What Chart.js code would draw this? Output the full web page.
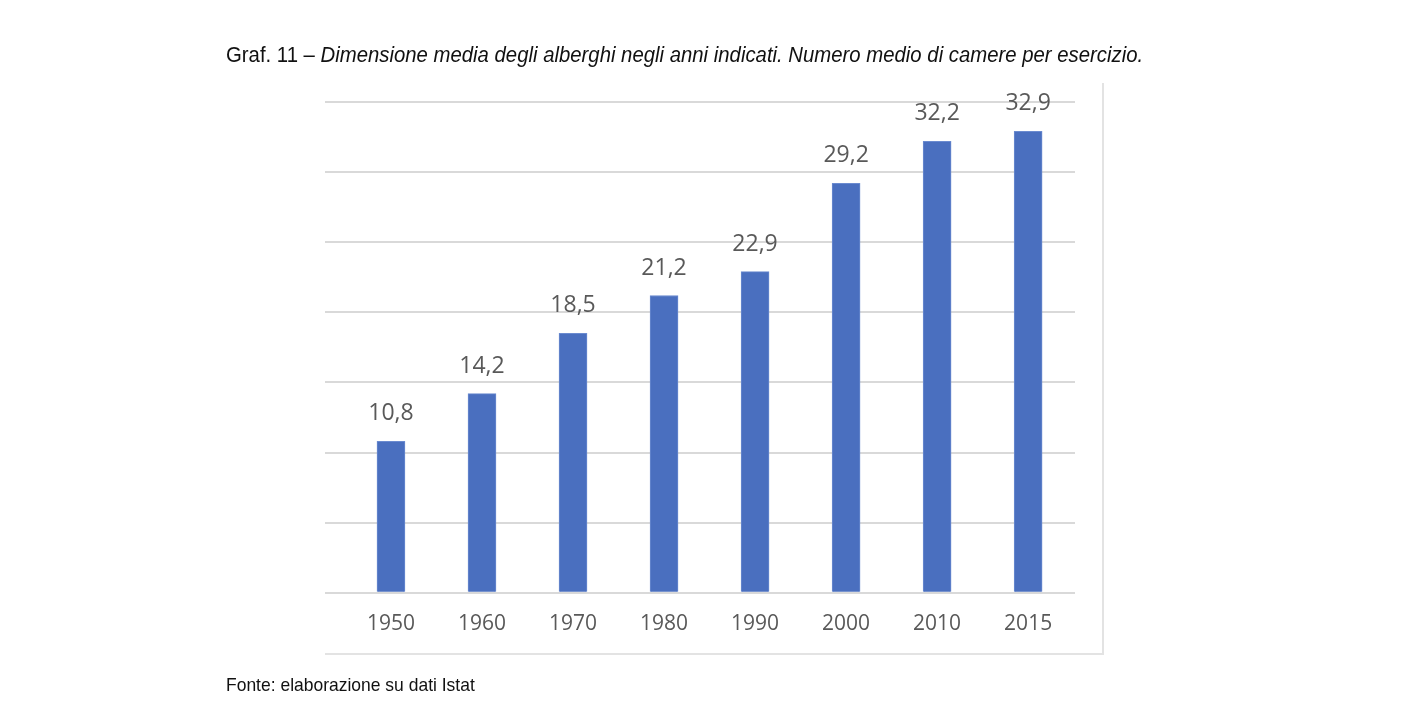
<!DOCTYPE html>
<html lang="it">
<head>
    <meta charset="UTF-8">
    <title>Graf. 11 - Dimensione media degli alberghi</title>
    <script src="https://cdn.jsdelivr.net/npm/chart.js"></script>
    <style>
        body { margin: 0; background: #fff; }
        .page { position: relative; width: 1405px; height: 726px; overflow: hidden; }
        .title, .source {
            position: absolute; left: 226px;
            font-family: "Liberation Sans", Arial, sans-serif;
            color: #111; white-space: nowrap;
            transform-origin: left top;
        }
        .title { top: 42px; font-size: 22px; transform: scaleX(0.924); }
        .title i { font-style: italic; }
        .source { top: 674px; font-size: 19px; transform: scaleX(0.92); }
        .frame {
            position: absolute; left: 325px; top: 83px; width: 777px; height: 570px;
            border-right: 2px solid #e3e3e3; border-bottom: 2px solid #e3e3e3;
        }
        canvas { position: absolute; left: 0; top: 0; }
    </style>
</head>
<body>
<div class="page">
    <div class="frame"></div>
    <canvas id="chart" width="1405" height="726"></canvas>
    <div class="title">Graf. 11 – <i>Dimensione media degli alberghi negli anni indicati. Numero medio di camere per esercizio.</i></div>
    <div class="source">Fonte: elaborazione su dati Istat</div>
</div>

<script>
    // data
    const years = ['1950', '1960', '1970', '1980', '1990', '2000', '2010', '2015'];
    const rooms = [10.8, 14.2, 18.5, 21.2, 22.9, 29.2, 32.2, 32.9];
    const yTicks = [0, 5, 10, 15, 20, 25, 30, 35];

    const labelFont = '"Open Sans", sans-serif';

    // value labels above the bars, Italian decimal comma
    const valueLabels = {
        id: 'valueLabels',
        afterDatasetsDraw(chart) {
            const ctx = chart.ctx;
            const meta = chart.getDatasetMeta(0);
            ctx.save();
            ctx.font = '23px ' + labelFont;
            ctx.fillStyle = '#595959';
            ctx.textAlign = 'center';
            ctx.textBaseline = 'bottom';
            meta.data.forEach((bar, i) => {
                ctx.fillText(rooms[i].toFixed(1).replace('.', ','), bar.x, bar.y - 16);
            });
            ctx.restore();
        }
    };

    new Chart(document.getElementById('chart'), {
        type: 'bar',
        data: {
            datasets: [{
                data: rooms.map((v, i) => ({ x: i, y: v })),
                backgroundColor: '#4a6fbf',
                borderColor: '#6b8bd0',
                borderWidth: 1,
                barThickness: 28
            }]
        },
        options: {
            responsive: false,
            animation: false,
            layout: { padding: { left: 325, right: 330, top: 102, bottom: 70 } },
            plugins: {
                legend: { display: false },
                tooltip: { enabled: false }
            },
            scales: {
                x: {
                    type: 'linear',
                    offset: false,
                    min: -0.725,
                    max: 7.515,
                    grid: { display: false, drawTicks: false },
                    border: { display: false },
                    afterBuildTicks: s => { s.ticks = years.map((_, i) => ({ value: i })); },
                    ticks: {
                        autoSkip: false,
                        maxRotation: 0,
                        padding: 19,
                        color: '#595959',
                        font: { family: labelFont, size: 21 },
                        callback: v => years[v] ?? ''
                    }
                },
                y: {
                    min: yTicks[0],
                    max: yTicks[yTicks.length - 1],
                    afterBuildTicks: s => { s.ticks = yTicks.map(v => ({ value: v })); },
                    ticks: { display: false },
                    grid: { color: '#d9d9d9', lineWidth: 2, drawTicks: false },
                    border: { display: false }
                }
            }
        },
        plugins: [valueLabels]
    });
</script>
</body>
</html>
